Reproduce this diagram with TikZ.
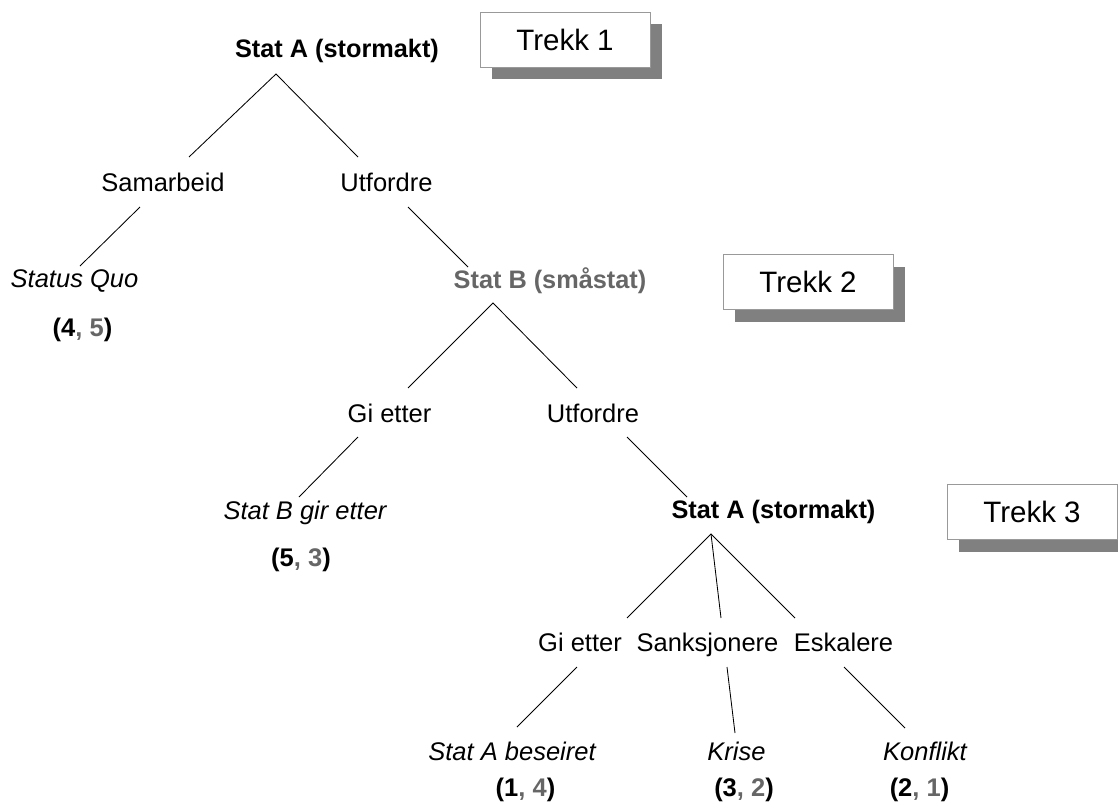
\documentclass[tikz,border=0pt]{standalone}
\usepackage{fontspec}
\setmainfont{Liberation Sans}
\usetikzlibrary{shadows}
\definecolor{gr}{HTML}{666666}
\definecolor{shd}{HTML}{808080}
\definecolor{bx}{HTML}{999999}
\begin{document}
\begin{tikzpicture}[x=1pt,y=-1pt,
  lbl/.style={anchor=base, inner sep=0pt, font=\fontsize{25.5}{30}\selectfont},
  player/.style={lbl, font=\fontsize{25.3}{30}\selectfont\bfseries},
  outcome/.style={lbl, font=\fontsize{25.5}{30}\selectfont\itshape},
  payoff/.style={lbl, font=\fontsize{25.5}{30}\selectfont\bfseries},
  trekkbox/.style={draw=bx, line width=1pt, fill=white, minimum width=170pt, minimum height=55pt, inner sep=0pt, font=\fontsize{29.5}{34}\selectfont, drop shadow={shadow xshift=12pt, shadow yshift=-12pt, fill=shd, opacity=1}},
  edge/.style={line width=0.85pt}
]
\useasboundingbox (0,0) rectangle (1118,803);
\clip (0,0) rectangle (1118,803);

% Trekk boxes
\node[trekkbox] (t1) at (565,39.5) {Trekk 1};
\node[trekkbox] (t2) at (808,282) {Trekk 2};
\node[trekkbox] (t3) at (1032,512) {Trekk 3};

% Labels
\node[player] (stA) at (337,57) {Stat A (stormakt)};
\node[lbl] (sam) at (163,191) {Samarbeid};
\node[lbl] (utf) at (386.5,191) {Utfordre};
\node[outcome] (sq) at (74.5,287) {Status Quo};
\node[payoff] (p1) at (82.5,336) {(4\textcolor{gr}{, 5})};
\node[player, text=gr] (stB) at (550,288) {Stat B (småstat)};
\node[lbl] (gi) at (389.5,422) {Gi etter};
\node[lbl] (utf2) at (593,422) {Utfordre};
\node[outcome] (sbg) at (305,519) {Stat B gir etter};
\node[payoff] (p2) at (301,566) {(5\textcolor{gr}{, 3})};
\node[player] (stA2) at (773.5,518) {Stat A (stormakt)};
\node[lbl] (gi2) at (580,651) {Gi etter};
\node[lbl] (sank) at (707.5,651) {Sanksjonere};
\node[lbl] (esk) at (843.5,651) {Eskalere};
\node[outcome] (sab) at (512,760) {Stat A beseiret};
\node[outcome] (kr) at (736.5,760) {Krise};
\node[outcome] (kon) at (925,760) {Konflikt};
\node[payoff] (p3) at (525.5,796) {(1\textcolor{gr}{, 4})};
\node[payoff] (p4) at (744,796) {(3\textcolor{gr}{, 2})};
\node[payoff] (p5) at (919.5,796) {(2\textcolor{gr}{, 1})};

% Line end points
\coordinate (a0) at (276,74);
\coordinate (a1) at (189,157);
\coordinate (a2) at (358,157);
\coordinate (s1) at (140,207);
\coordinate (s2) at (80,266);
\coordinate (u1) at (408,207);
\coordinate (u2) at (468,267);
\coordinate (b0) at (493,303);
\coordinate (b1) at (408,388);
\coordinate (b2) at (577,388);
\coordinate (g1) at (358,437);
\coordinate (g2) at (299,497);
\coordinate (v1) at (627,437);
\coordinate (v2) at (687,497);
\coordinate (c0) at (711,534);
\coordinate (c1) at (627,618);
\coordinate (c2) at (721,618);
\coordinate (c3) at (795,618);
\coordinate (h1) at (577,667);
\coordinate (h2) at (517,727);
\coordinate (k1) at (727,667);
\coordinate (k2) at (735,733);
\coordinate (e1) at (844,667);
\coordinate (e2) at (905,728);

% Connectors
\draw[edge] (a1) -- (a0) -- (a2);
\draw[edge] (s1) -- (s2);
\draw[edge] (u1) -- (u2);
\draw[edge] (b1) -- (b0) -- (b2);
\draw[edge] (g1) -- (g2);
\draw[edge] (v1) -- (v2);
\draw[edge] (c1) -- (c0) -- (c3);
\draw[edge] (c0) -- (c2);
\draw[edge] (h1) -- (h2);
\draw[edge] (k1) -- (k2);
\draw[edge] (e1) -- (e2);
\end{tikzpicture}
\end{document}
